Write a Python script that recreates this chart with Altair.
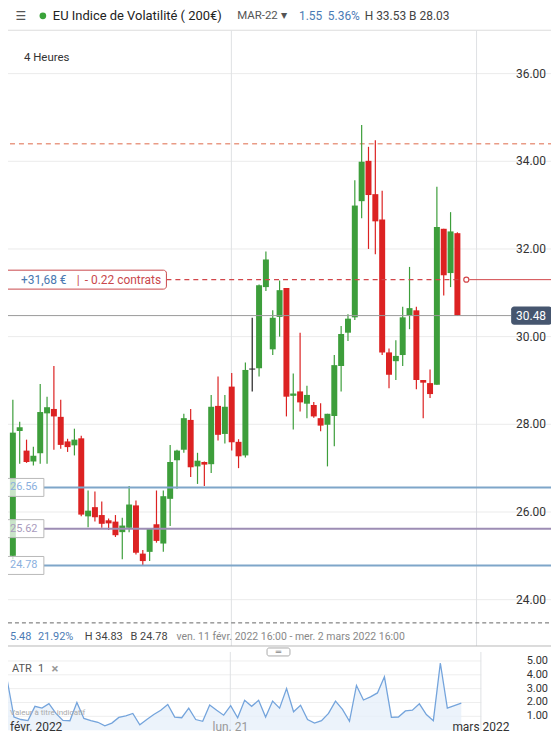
import altair as alt
import pandas as pd

# ---------------- data ----------------
opens = [25.00, 27.85, 27.40, 27.15, 27.34, 28.25, 28.35, 28.17, 27.61, 27.52,
         27.68, 25.90, 26.11, 25.93, 25.81, 25.78, 25.54, 25.64, 26.15, 25.05,
         25.09, 25.72, 25.28, 26.30, 27.18, 27.42, 28.10, 27.04, 27.14, 27.09,
         28.42, 27.78, 28.86, 27.60, 27.29, 29.26, 29.28, 31.13, 29.71, 30.45,
         31.11, 28.65, 28.75, 28.47, 28.44, 28.14, 27.99, 28.19, 29.33, 30.09,
         30.44, 33.09, 34.01, 33.25, 32.67, 29.64, 29.44, 29.58, 30.49, 30.60,
         29.01, 28.94, 28.90, 32.46, 31.45, 32.36]
closes = [27.81, 27.93, 27.14, 27.28, 28.28, 28.39, 28.18, 27.53, 27.48, 27.65,
          25.94, 26.03, 25.88, 25.73, 25.74, 25.47, 25.69, 26.17, 25.07, 24.88,
          25.63, 25.34, 26.36, 27.14, 27.40, 28.14, 27.02, 27.17, 27.08, 28.40,
          27.76, 28.40, 27.59, 27.27, 29.24, 29.26, 31.17, 31.76, 30.43, 31.06,
          28.63, 28.69, 28.50, 28.67, 28.18, 27.97, 28.24, 29.35, 30.06, 30.41,
          32.99, 33.99, 33.23, 32.63, 29.64, 29.13, 29.56, 30.44, 30.65, 29.01,
          28.95, 28.69, 32.50, 31.40, 32.40, 30.48]
highs = [28.56, 28.06, 27.65, 27.49, 28.92, 28.63, 29.33, 28.56, 27.67, 27.90,
         27.74, 26.49, 26.47, 26.24, 25.85, 25.93, 25.87, 26.59, 26.26, 25.13,
         25.63, 26.49, 26.49, 27.53, 27.42, 28.24, 28.35, 27.35, 27.15, 28.67,
         29.09, 28.67, 29.17, 27.66, 29.41, 30.43, 31.19, 31.94, 30.60, 31.28,
         31.11, 29.16, 30.09, 28.88, 28.51, 28.48, 28.24, 29.58, 30.24, 30.51,
         33.57, 34.83, 34.33, 34.48, 33.33, 29.73, 29.92, 30.68, 31.59, 30.68,
         29.01, 29.25, 33.42, 32.46, 32.84, 32.38]
lows = [24.92, 27.10, 27.12, 27.06, 27.10, 27.10, 27.42, 27.44, 27.37, 27.29,
        25.90, 25.65, 25.78, 25.64, 25.59, 25.43, 24.92, 25.54, 25.03, 24.78,
        24.88, 25.30, 25.09, 25.68, 26.53, 27.35, 26.80, 26.64, 26.59, 26.89,
        27.63, 27.56, 27.40, 27.00, 27.24, 28.75, 29.09, 31.04, 29.58, 30.00,
        28.18, 27.88, 28.29, 28.14, 28.15, 27.84, 27.04, 27.50, 28.75, 29.90,
        30.38, 32.70, 32.00, 31.88, 29.58, 28.82, 29.01, 29.33, 30.17, 28.80,
        28.14, 28.60, 28.90, 30.94, 31.13, 30.47]
atr_values = [3.69, 0.95, 0.77, 0.69, 1.72, 1.59, 1.92, 1.21, 0.70, 0.68,
              2.00, 0.85, 0.69, 0.57, 0.31, 0.51, 0.92, 1.03, 1.21, 0.39,
              0.77, 1.13, 1.44, 1.85, 0.95, 0.90, 1.59, 0.77, 0.64, 1.82,
              1.44, 1.08, 1.77, 0.90, 2.16, 1.72, 2.16, 0.95, 2.10, 1.59,
              3.00, 1.33, 1.80, 0.77, 0.51, 0.69, 1.21, 2.10, 1.50, 0.64,
              3.23, 2.18, 2.41, 2.69, 3.85, 0.92, 0.95, 1.39, 1.44, 1.90,
              1.13, 0.69, 4.85, 1.59, 1.77, 1.95]

price_ticks = [24, 26, 28, 30, 32, 34, 36]
atr_ticks = [1, 2, 3, 4, 5]
date_labels = ["lun. 21", "mars 2022"]
date_idx = [31.95, 67.8]
first_date_label = "févr. 2022"

level_prices = [26.56, 25.62, 24.78]
level_line_colors = ["#7ea6c9", "#9d8db4", "#7ea6c9"]
level_text_colors = ["#8ab0de", "#a99bbd", "#8ab0de"]
stop_level = 34.40
position_level = 31.30
lower_dash_level = 23.47

FONT = "Roboto"
W, H_MAIN, H_ATR = 559, 647, 82

n = len(opens)
idx = list(range(n))
dirs = ["up" if c > o else ("down" if c < o else "flat") for o, c in zip(opens, closes)]
candles = pd.DataFrame({"i": idx, "open": opens, "high": highs, "low": lows,
                        "close": closes, "dir": dirs})

xscale = alt.Scale(domain=[-0.8553, 78.831], nice=False, zero=False)
yscale = alt.Scale(domain=[22.943, 37.648], nice=False, zero=False)
ascale = alt.Scale(domain=[-0.2518, 5.647], nice=False, zero=False)
cscale = alt.Scale(domain=["up", "down", "flat"], range=["#3d9e3b", "#dc2222", "#222222"])


def one():
    return pd.DataFrame({"k": [0]})


def txt(text, x, y, size=11, color="#333", align="left", weight="normal",
        font=FONT, baseline="middle"):
    return alt.Chart(pd.DataFrame({"t": [text]})).mark_text(
        align=align, baseline=baseline, fontSize=size, color=color,
        fontWeight=weight, font=font
    ).encode(x=alt.value(x), y=alt.value(y), text="t:N")


def px_rule(x1, x2, y1, y2, color, width=1, dash=None):
    kw = dict(color=color, strokeWidth=width)
    if dash:
        kw["strokeDash"] = dash
    return alt.Chart(one()).mark_rule(**kw).encode(
        x=alt.value(x1), x2=alt.value(x2), y=alt.value(y1), y2=alt.value(y2))


def level_rule(p, x1, x2, color, width=1, dash=None):
    kw = dict(color=color, strokeWidth=width)
    if dash:
        kw["strokeDash"] = dash
    return alt.Chart(pd.DataFrame({"p": [p]})).mark_rule(**kw).encode(
        y=alt.Y("p:Q", scale=yscale, axis=None), x=alt.value(x1), x2=alt.value(x2))


def level_box(p, x1, x2, half, fill, stroke=None, fill_opacity=1.0, radius=0):
    kw = dict(fill=fill, fillOpacity=fill_opacity, cornerRadius=radius)
    if stroke:
        kw["stroke"] = stroke
        kw["strokeWidth"] = 1
    return alt.Chart(pd.DataFrame({"p": [p]})).transform_calculate(
        top=f"datum.p + {half}", bot=f"datum.p - {half}"
    ).mark_rect(**kw).encode(
        y=alt.Y("top:Q", scale=yscale, axis=None), y2="bot:Q",
        x=alt.value(x1), x2=alt.value(x2))


def level_text(p, text, x, color, size=11, align="left"):
    return alt.Chart(pd.DataFrame({"p": [p], "t": [text]})).mark_text(
        align=align, baseline="middle", fontSize=size, color=color, font=FONT
    ).encode(y=alt.Y("p:Q", scale=yscale, axis=None), x=alt.value(x), text="t:N")


X = alt.X("i:Q", scale=xscale, axis=None)

# ---------------- main panel ----------------
grid_df = pd.DataFrame({"p": price_ticks, "lab": [f"{v:.2f}" for v in price_ticks]})
grid = alt.Chart(grid_df).mark_rule(color="#ebebeb", strokeWidth=1).encode(
    y=alt.Y("p:Q", scale=yscale, axis=None), x=alt.value(0), x2=alt.value(556))
price_labels = alt.Chart(grid_df).mark_text(
    align="right", baseline="middle", fontSize=12, color="#333", font=FONT
).encode(y=alt.Y("p:Q", scale=yscale, axis=None), x=alt.value(547), text="lab:N")

vgrid_df = pd.DataFrame({"i": date_idx})
vgrid = alt.Chart(vgrid_df).mark_rule(color="#dfe1e4", strokeWidth=1).encode(
    x=X, y=alt.value(29), y2=alt.value(647))

base = alt.Chart(candles).encode(x=X, color=alt.Color("dir:N", scale=cscale, legend=None))
wicks = base.mark_rule(strokeWidth=1.2).encode(
    y=alt.Y("low:Q", scale=yscale, axis=None), y2="high:Q")
bodies = base.mark_bar(width=6).encode(
    y=alt.Y("open:Q", scale=yscale, axis=None), y2="close:Q")
dojis = base.transform_filter("abs(datum.close - datum.open) < 0.05").mark_tick(
    orient="horizontal", size=6, thickness=1.5).encode(
    y=alt.Y("close:Q", scale=yscale, axis=None))

layers = [
    px_rule(0, 559, 29, 29, "#dcdcdc"),
    grid, vgrid,
    level_rule(lower_dash_level, 0, 556, "#666666", 1, [4, 3]),
    level_rule(stop_level, 0, 556, "#e99b86", 1.3, [5, 4]),
    wicks, bodies, dojis,
]
for p, c in zip(level_prices, level_line_colors):
    layers.append(level_rule(p, 43, 556, c, 2))
last_price = closes[-1]
layers += [
    level_rule(last_price, 0, 512, "#9a9a9a", 1),
    level_rule(position_level, 166, 463, "#d2464a", 1.2, [5, 4]),
    level_rule(position_level, 470, 556, "#d2464a", 1),
    alt.Chart(pd.DataFrame({"p": [position_level]})).mark_point(
        shape="circle", size=26, filled=True, fill="white", stroke="#d2464a",
        strokeWidth=1.2, opacity=1).encode(
        y=alt.Y("p:Q", scale=yscale, axis=None), x=alt.value(467)),
]
for p, tc in zip(level_prices, level_text_colors):
    layers.append(level_box(p, 1, 43, 0.205, "white", "#b9b9b9", 0.72))
    layers.append(level_text(p, f"{p:.2f}", 9, tc, 11))
layers += [
    level_box(position_level, 4, 166, 0.216, "white", "#c9484c", 1.0, 3),
    level_text(position_level, "+31,68 €", 20, "#4a78b0", 12),
    level_text(position_level, "|", 76, "#c9484c", 12),
    level_text(position_level, "- 0.22 contrats", 84, "#c9484c", 12),
    level_box(last_price, 512, 553, 0.21, "#46566f", None, 1.0, 3),
    level_text(last_price, f"{last_price:.2f}", 532, "white", 12, "center"),
    price_labels,
    # header
    txt("☰", 20, 15, 12, "#555", "center", font="DejaVu Sans"),
    alt.Chart(one()).mark_point(shape="circle", size=45, filled=True,
                                color="#3aa33a", opacity=1).encode(
        x=alt.value(42), y=alt.value(14.5)),
    txt("EU Indice de Volatilité ( 200€)", 52, 14.5, 13, "#222"),
    txt("MAR-22", 237, 15, 11.5, "#555"),
    txt("▼", 284, 15, 8, "#555", "center", font="DejaVu Sans"),
    txt("1.55", 299, 14.5, 12, "#4b7bb5"),
    txt("5.36%", 328, 14.5, 12, "#4b7bb5"),
    txt("H 33.53 B 28.03", 365, 14.5, 12, "#444"),
    txt("4 Heures", 23, 57, 11.5, "#333"),
    # info line
    txt("5.48", 9, 638, 11, "#4b7bb5"),
    txt("21.92%", 37, 638, 11, "#4b7bb5"),
    txt("H 34.83", 84, 638, 11, "#444"),
    txt("B 24.78", 130, 638, 11, "#444"),
    txt("ven. 11 févr. 2022 16:00 - mer. 2 mars 2022 16:00", 176, 638, 10.5, "#888"),
    px_rule(0, 559, 647, 647, "#b8b8b8"),
]
main = alt.layer(*layers).properties(width=W, height=H_MAIN)

# ---------------- ATR panel ----------------
atr_df = pd.DataFrame({"i": idx, "atr": atr_values})
atr_grid_df = pd.DataFrame({"v": atr_ticks, "lab": [f"{v:.2f}" for v in atr_ticks]})
AY = alt.Y("atr:Q", scale=ascale, axis=None)
atr_layers = [
    alt.Chart(atr_grid_df).mark_rule(color="#eeeeee").encode(
        y=alt.Y("v:Q", scale=ascale, axis=None), x=alt.value(0), x2=alt.value(482)),
    alt.Chart(vgrid_df).mark_rule(color="#dfe1e4").encode(
        x=X, y=alt.value(0), y2=alt.value(78.5)),
    alt.Chart(atr_df).mark_area(color="#e6eff9", opacity=0.75).encode(
        x=X, y=AY, y2=alt.Y2Datum(0)),
    alt.Chart(atr_df).mark_line(color="#74a4dc", strokeWidth=1.3).encode(x=X, y=AY),
    alt.Chart(atr_grid_df).mark_text(align="right", baseline="middle", fontSize=11,
                                     color="#333", font=FONT).encode(
        y=alt.Y("v:Q", scale=ascale, axis=None), x=alt.value(549), text="lab:N"),
    txt("ATR", 11, 17, 11, "#555"),
    txt("1", 37, 17, 11, "#555"),
    txt("×", 54, 17, 13, "#999", "center", weight="bold"),
    txt("Valeur à titre indicatif", 9, 61.5, 8, "#aaa"),
    alt.Chart(pd.DataFrame({"i": [date_idx[0]], "t": [date_labels[0]]})).mark_text(
        align="center", baseline="alphabetic", fontSize=12, color="#999", font=FONT
    ).encode(x=X, y=alt.value(79), text="t:N"),
    alt.Chart(pd.DataFrame({"i": [date_idx[1]], "t": [date_labels[1]]})).mark_text(
        align="center", baseline="alphabetic", fontSize=12, color="#333", font=FONT
    ).encode(x=X, y=alt.value(79), text="t:N"),
    txt(first_date_label, 9, 79, 12, "#333", baseline="alphabetic"),
    alt.Chart(one()).mark_rect(fill="white", stroke="#aaaaaa", strokeWidth=1,
                               cornerRadius=2).encode(
        x=alt.value(267), x2=alt.value(290), y=alt.value(-4), y2=alt.value(4)),
    txt("═", 278.5, 0, 9, "#888", "center", font="DejaVu Sans"),
]
atr = alt.layer(*atr_layers).properties(width=W, height=H_ATR)

chart = alt.vconcat(main, atr, spacing=0).resolve_scale(
    x="independent", y="independent", color="independent"
).properties(
    padding={"left": -8, "top": -8, "right": -8, "bottom": 0},
    background="white"
).configure_view(strokeWidth=0).configure_bar(continuousBandSize=6)

chart.save("out.html", embed_options={"renderer": "svg", "actions": False})
